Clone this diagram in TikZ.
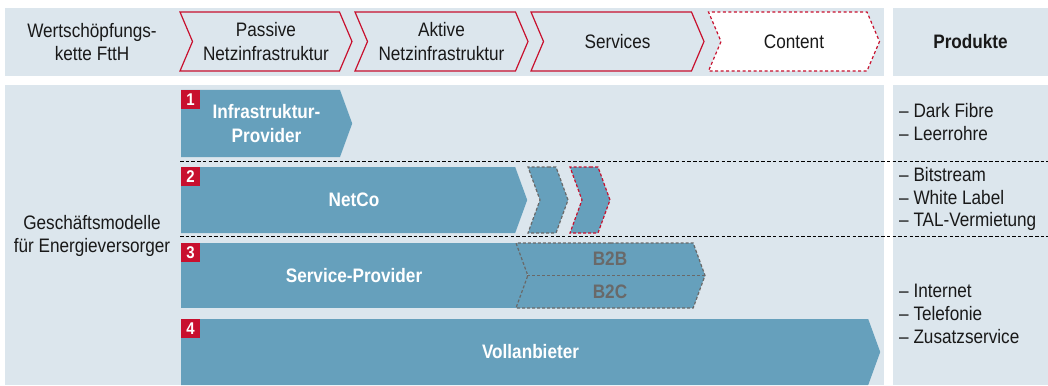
\documentclass[tikz,border=0pt]{standalone}
\usepackage{fontspec}
\setmainfont{Liberation Sans}[FakeStretch=0.88]
\usepackage{tikz}
\usetikzlibrary{shapes.symbols,positioning}
\definecolor{panel}{RGB}{220,230,237}
\definecolor{modelblue}{RGB}{102,160,188}
\definecolor{accent}{RGB}{200,16,46}
\definecolor{dashgrey}{RGB}{105,105,105}
\definecolor{ink}{RGB}{25,25,25}

\begin{document}
\begin{tikzpicture}[
  x=1pt, y=-1pt,
  every node/.style={font=\fontsize{19.5}{23.5}\selectfont, inner sep=0pt, text=ink},
  stage/.style={signal, signal from=west, signal to=east, signal pointer angle=134, minimum height=59pt, draw=accent, line width=1.2pt, fill=panel, align=center},
  model/.style={signal, signal to=east, signal pointer angle=140, fill=modelblue},
  modeltext/.style={text=white, font=\fontsize{19.5}{23.5}\selectfont\bfseries, align=center},
  ghost/.style={signal from=west, line width=1.2pt, dash pattern=on 3pt off 2pt},
  numbox/.style={rectangle, fill=accent, minimum size=18.5pt, anchor=north west, text=white, font=\fontsize{17}{17}\selectfont\bfseries},
  prodlist/.style={anchor=west, align=left, font=\fontsize{19.5}{22.8}\selectfont},
  sep/.style={line width=1.3pt, dash pattern=on 3.5pt off 2.2pt}
]
  \useasboundingbox (0,0) rectangle (1048,385);
  % background panels
  \fill[panel] (5,8) rectangle (884,76);
  \fill[panel] (893,8) rectangle (1048,76);
  \fill[panel] (5,85) rectangle (884,385);
  \fill[panel] (893,85) rectangle (1048,385);

  \node[align=center] (chain) at (92,42) {Wertschöpfungs-\\kette FttH};
  \node[stage, minimum width=172pt] (passive) at (266,41.5) {Passive\\Netzinfrastruktur};
  \node[stage, minimum width=173pt] (aktive) at (441.5,41.5) {Aktive\\Netzinfrastruktur};
  \node[stage, minimum width=173pt] (services) at (617.5,41.5) {Services};
  \node[stage, minimum width=171pt, fill=white, dash pattern=on 3pt off 2.5pt] (content) at (794,41.5) {Content};
  \node[font=\fontsize{19.5}{23.5}\selectfont\bfseries] (products) at (970.5,42) {Produkte};

  \node[align=center] (models) at (92,236) {Geschäftsmodelle\\für Energieversorger};

  \node[model, anchor=west, minimum width=171pt, minimum height=67pt] (infra) at (181,123.5) {};
  \node[modeltext] (infratext) at (266.5,123.5) {Infrastruktur-\\Provider};
  \node[model, anchor=west, minimum width=346pt, minimum height=66pt] (netco) at (181,200) {};
  \node[modeltext] (netcotext) at (354,200) {NetCo};
  \node[model, ghost, draw=dashgrey, minimum width=40pt, minimum height=66pt] (netnext) at (548,200) {};
  \node[model, ghost, draw=accent, minimum width=40pt, minimum height=66pt] (netlast) at (590,200) {};
  \node[rectangle, fill=modelblue, modeltext, minimum width=346pt, minimum height=65pt] (service) at (354,275.5) {Service-Provider};
  \node[model, ghost, draw=dashgrey, minimum width=189pt, minimum height=65pt] (b2x) at (610.5,275.5) {};
  \draw[dashgrey, line width=1.2pt, dash pattern=on 3pt off 2pt] (b2x.west) -- (b2x.east);
  \node[modeltext, text=dashgrey] (b2b) at (610,259) {B2B};
  \node[modeltext, text=dashgrey] (b2c) at (610,292) {B2C};
  \node[model, anchor=west, minimum width=699pt, minimum height=66pt] (full) at (181,352) {};
  \node[modeltext] (fulltext) at (530.5,352) {Vollanbieter};

  \node[numbox] (n1) at (181,90) {1};
  \node[numbox] (n2) at (181,167) {2};
  \node[numbox] (n3) at (181,243) {3};
  \node[numbox] (n4) at (181,319) {4};

  \draw[sep] (180,161.5) -- (1048,161.5);
  \draw[sep] (180,236.5) -- (1048,236.5);

  \node[prodlist] (prodinfra) at (899,122) {– Dark Fibre\\– Leerrohre};
  \node[prodlist] (prodnet) at (899,199) {– Bitstream\\– White Label\\– TAL-Vermietung};
  \node[prodlist] (prodservice) at (899,314) {– Internet\\– Telefonie\\– Zusatzservice};
\end{tikzpicture}
\end{document}
